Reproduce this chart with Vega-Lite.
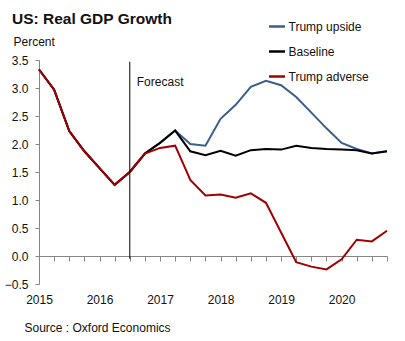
{
  "$schema": "https://vega.github.io/schema/vega-lite/v6.json",
  "width": 348,
  "height": 224,
  "autosize": "none",
  "padding": {"left": 39, "top": 60, "right": 18, "bottom": 57},
  "background": "white",
  "config": {
    "font": "Liberation Sans",
    "view": {"stroke": null},
    "axis": {"grid": false}
  },
  "title": {
    "text": "US: Real GDP Growth",
    "anchor": "start",
    "frame": "group",
    "fontSize": 15.5,
    "fontWeight": "bold",
    "color": "#111111",
    "dx": -27,
    "dy": 14,
    "offset": 4
  },
  "encoding": {
    "x": {
      "field": "t",
      "type": "quantitative",
      "scale": {"domain": [2015, 2020.75], "nice": false, "zero": false},
      "axis": {
        "values": [2015, 2015.25, 2015.5, 2015.75, 2016, 2016.25, 2016.5, 2016.75, 2017, 2017.25, 2017.5, 2017.75, 2018, 2018.25, 2018.5, 2018.75, 2019, 2019.25, 2019.5, 2019.75, 2020, 2020.25, 2020.5, 2020.75],
        "labelExpr": "datum.value % 1 === 0 ? format(datum.value, 'd') : ''",
        "labelOverlap": false,
        "labelFlush": false,
        "offset": -28,
        "domainColor": "#868686",
        "tickColor": "#868686",
        "tickSize": 5,
        "labelPadding": 33,
        "labelFontSize": 12,
        "labelColor": "#111111",
        "title": "Source : Oxford Economics",
        "titleX": -15,
        "titleY": 75,
        "titleAlign": "left",
        "titleAnchor": "start",
        "titleBaseline": "alphabetic",
        "titleFontWeight": "normal",
        "titleFontSize": 12,
        "titleColor": "#111111"
      }
    },
    "y": {
      "field": "v",
      "type": "quantitative",
      "scale": {"domain": [-0.5, 3.5], "nice": false, "zero": false},
      "axis": {
        "values": [-0.5, 0, 0.5, 1, 1.5, 2, 2.5, 3, 3.5],
        "format": ".1f",
        "labelOverlap": false,
        "labelFlush": false,
        "domainColor": "#868686",
        "tickColor": "#868686",
        "tickSize": 4,
        "labelPadding": 7,
        "labelFontSize": 12,
        "labelColor": "#111111",
        "title": "Percent",
        "titleAngle": 0,
        "titleX": -26,
        "titleY": -15,
        "titleAlign": "left",
        "titleBaseline": "alphabetic",
        "titleFontWeight": "normal",
        "titleFontSize": 12,
        "titleColor": "#111111"
      }
    }
  },
  "layer": [
    {
      "data": {
        "values": [
          {"series": "Trump upside", "t": 2015.0, "v": 3.33},
          {"series": "Trump upside", "t": 2015.25, "v": 2.97},
          {"series": "Trump upside", "t": 2015.5, "v": 2.23},
          {"series": "Trump upside", "t": 2015.75, "v": 1.87},
          {"series": "Trump upside", "t": 2016.0, "v": 1.57},
          {"series": "Trump upside", "t": 2016.25, "v": 1.27},
          {"series": "Trump upside", "t": 2016.5, "v": 1.5},
          {"series": "Trump upside", "t": 2016.75, "v": 1.83},
          {"series": "Trump upside", "t": 2017.0, "v": 2.02},
          {"series": "Trump upside", "t": 2017.25, "v": 2.24},
          {"series": "Trump upside", "t": 2017.5, "v": 2.0},
          {"series": "Trump upside", "t": 2017.75, "v": 1.97},
          {"series": "Trump upside", "t": 2018.0, "v": 2.45},
          {"series": "Trump upside", "t": 2018.25, "v": 2.7},
          {"series": "Trump upside", "t": 2018.5, "v": 3.02},
          {"series": "Trump upside", "t": 2018.75, "v": 3.13},
          {"series": "Trump upside", "t": 2019.0, "v": 3.05},
          {"series": "Trump upside", "t": 2019.25, "v": 2.84},
          {"series": "Trump upside", "t": 2019.5, "v": 2.56},
          {"series": "Trump upside", "t": 2019.75, "v": 2.28},
          {"series": "Trump upside", "t": 2020.0, "v": 2.02},
          {"series": "Trump upside", "t": 2020.25, "v": 1.91},
          {"series": "Trump upside", "t": 2020.5, "v": 1.83},
          {"series": "Trump upside", "t": 2020.75, "v": 1.87},
          {"series": "Baseline", "t": 2015.0, "v": 3.33},
          {"series": "Baseline", "t": 2015.25, "v": 2.97},
          {"series": "Baseline", "t": 2015.5, "v": 2.23},
          {"series": "Baseline", "t": 2015.75, "v": 1.87},
          {"series": "Baseline", "t": 2016.0, "v": 1.57},
          {"series": "Baseline", "t": 2016.25, "v": 1.27},
          {"series": "Baseline", "t": 2016.5, "v": 1.5},
          {"series": "Baseline", "t": 2016.75, "v": 1.83},
          {"series": "Baseline", "t": 2017.0, "v": 2.02},
          {"series": "Baseline", "t": 2017.25, "v": 2.24},
          {"series": "Baseline", "t": 2017.5, "v": 1.87},
          {"series": "Baseline", "t": 2017.75, "v": 1.8},
          {"series": "Baseline", "t": 2018.0, "v": 1.88},
          {"series": "Baseline", "t": 2018.25, "v": 1.79},
          {"series": "Baseline", "t": 2018.5, "v": 1.89},
          {"series": "Baseline", "t": 2018.75, "v": 1.91},
          {"series": "Baseline", "t": 2019.0, "v": 1.9},
          {"series": "Baseline", "t": 2019.25, "v": 1.97},
          {"series": "Baseline", "t": 2019.5, "v": 1.93},
          {"series": "Baseline", "t": 2019.75, "v": 1.91},
          {"series": "Baseline", "t": 2020.0, "v": 1.9},
          {"series": "Baseline", "t": 2020.25, "v": 1.89},
          {"series": "Baseline", "t": 2020.5, "v": 1.83},
          {"series": "Baseline", "t": 2020.75, "v": 1.87},
          {"series": "Trump adverse", "t": 2015.0, "v": 3.33},
          {"series": "Trump adverse", "t": 2015.25, "v": 2.97},
          {"series": "Trump adverse", "t": 2015.5, "v": 2.23},
          {"series": "Trump adverse", "t": 2015.75, "v": 1.87},
          {"series": "Trump adverse", "t": 2016.0, "v": 1.57},
          {"series": "Trump adverse", "t": 2016.25, "v": 1.27},
          {"series": "Trump adverse", "t": 2016.5, "v": 1.5},
          {"series": "Trump adverse", "t": 2016.75, "v": 1.83},
          {"series": "Trump adverse", "t": 2017.0, "v": 1.93},
          {"series": "Trump adverse", "t": 2017.25, "v": 1.97},
          {"series": "Trump adverse", "t": 2017.5, "v": 1.36},
          {"series": "Trump adverse", "t": 2017.75, "v": 1.08},
          {"series": "Trump adverse", "t": 2018.0, "v": 1.1},
          {"series": "Trump adverse", "t": 2018.25, "v": 1.04},
          {"series": "Trump adverse", "t": 2018.5, "v": 1.12},
          {"series": "Trump adverse", "t": 2018.75, "v": 0.95},
          {"series": "Trump adverse", "t": 2019.0, "v": 0.42},
          {"series": "Trump adverse", "t": 2019.25, "v": -0.11},
          {"series": "Trump adverse", "t": 2019.5, "v": -0.19},
          {"series": "Trump adverse", "t": 2019.75, "v": -0.24},
          {"series": "Trump adverse", "t": 2020.0, "v": -0.06},
          {"series": "Trump adverse", "t": 2020.25, "v": 0.29},
          {"series": "Trump adverse", "t": 2020.5, "v": 0.26},
          {"series": "Trump adverse", "t": 2020.75, "v": 0.45}
        ]
      },
      "mark": {"type": "line", "strokeWidth": 2},
      "encoding": {
        "color": {
          "field": "series",
          "type": "nominal",
          "scale": {"domain": ["Trump upside", "Baseline", "Trump adverse"], "range": ["#3B5E8C", "#000000", "#A00000"]},
          "legend": {
            "title": null,
            "orient": "none",
            "legendX": 228.5,
            "legendY": -43,
            "symbolType": "stroke",
            "symbolSize": 256,
            "symbolStrokeWidth": 2.5,
            "labelFontSize": 12,
            "labelColor": "#111111",
            "labelOffset": 2,
            "rowPadding": 9,
            "padding": 0
          }
        }
      }
    },
    {
      "data": {"values": [{"t": 2016.5, "v": 3.47, "v2": -0.05}]},
      "mark": {"type": "rule", "color": "#000000", "strokeWidth": 1},
      "encoding": {
        "y2": {"field": "v2"}
      }
    },
    {
      "data": {"values": [{"t": 2016.5, "v": 3.03, "label": "Forecast"}]},
      "mark": {"type": "text", "align": "left", "baseline": "alphabetic", "dx": 7, "fontSize": 12, "color": "#111111"},
      "encoding": {
        "text": {"field": "label"}
      }
    }
  ]
}
